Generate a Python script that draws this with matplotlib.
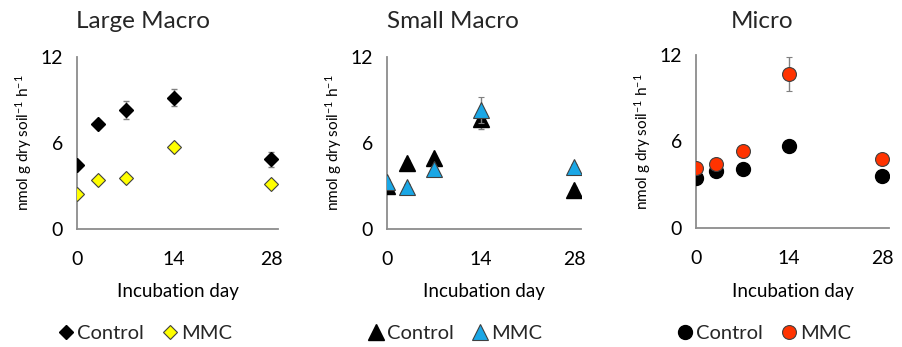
import matplotlib
matplotlib.use("Agg")
import matplotlib.pyplot as plt
from matplotlib.lines import Line2D

plt.rcParams.update({
    "font.family": ["Lato", "DejaVu Sans"],
    "font.size": 12,
    "text.color": "#262626",
    "mathtext.fontset": "custom",
    "mathtext.rm": "Lato",
})

days = [0, 3, 7, 14, 28]
xticks = [0, 14, 28]
yticks = [0, 6, 12]

titles = ["Large Macro", "Small Macro", "Micro"]

large_ctrl = [4.47, 7.33, 8.3, 9.16, 4.86]
large_ctrl_err = [0.2, 0.2, 0.6, 0.6, 0.5]
large_mmc = [2.42, 3.42, 3.54, 5.7, 3.16]
large_mmc_err = [0.15, 0.15, 0.15, 0.2, 0.15]

small_ctrl = [3.0, 4.6, 4.92, 7.7, 2.7]
small_ctrl_err = [0.2, 0.2, 0.2, 0.7, 0.2]
small_mmc = [3.3, 2.93, 4.22, 8.3, 4.33]
small_mmc_err = [0.2, 0.2, 0.2, 0.9, 0.2]

micro_ctrl = [3.47, 3.96, 4.12, 5.7, 3.61]
micro_ctrl_err = [0.15, 0.15, 0.15, 0.2, 0.15]
micro_mmc = [4.19, 4.47, 5.35, 10.67, 4.77]
micro_mmc_err = [0.2, 0.2, 0.2, 1.2, 0.2]

panels = [
    (large_ctrl, large_ctrl_err, large_mmc, large_mmc_err, "D", 7, "#FFFF00"),
    (small_ctrl, small_ctrl_err, small_mmc, small_mmc_err, "^", 11, "#1AA7E6"),
    (micro_ctrl, micro_ctrl_err, micro_mmc, micro_mmc_err, "o", 10, "#FF3300"),
]

W, H = 902, 347
fig = plt.figure(figsize=(W / 100, H / 100), dpi=100)

# axes boxes in pixels: left, right, top, bottom
boxes = [(77, 278, 57, 229), (387, 581, 57, 229), (696, 889, 55, 228)]
title_x = [143, 453, 762]

for i, (ctrl, ce, mmc, me, mk, ms, col) in enumerate(panels):
    l, r, t, b = boxes[i]
    ax = fig.add_axes([l / W, 1 - b / H, (r - l) / W, (b - t) / H])
    ax.errorbar(days, ctrl, yerr=ce, fmt=mk, ms=ms, mfc="black", mec="black",
                ecolor="#808080", elinewidth=1, capsize=2.5, zorder=3)
    ax.errorbar(days, mmc, yerr=me, fmt=mk, ms=ms, mfc=col, mec="#404040", mew=0.8,
                ecolor="#808080", elinewidth=1, capsize=2.5, zorder=4)
    ax.set_xlim(0, 29)
    ax.set_ylim(0, 12)
    ax.set_xticks(xticks)
    ax.set_yticks(yticks)
    for s in ["top", "right"]:
        ax.spines[s].set_visible(False)
    for s in ["left", "bottom"]:
        ax.spines[s].set_color("#8c8c8c")
        ax.spines[s].set_linewidth(1.3)
        ax.spines[s].set_zorder(1)
    ax.tick_params(length=0, labelsize=14)
    ax.tick_params(axis="x", pad=16)
    ax.tick_params(axis="y", pad=10)
    ax.set_xlabel("Incubation day", fontsize=13.5, labelpad=11)
    ax.set_ylabel(r"nmol g dry soil$\mathregular{^{-1}}$ h$\mathregular{^{-1}}$",
                  fontsize=11, labelpad=5)
    ax.patch.set_alpha(0)

    fig.text(title_x[i] / W, 1 - 22 / H, titles[i], ha="center", va="center", fontsize=17.5)

    handles = [
        Line2D([], [], ls="none", marker=mk, ms=ms, mfc="black", mec="black"),
        Line2D([], [], ls="none", marker=mk, ms=ms, mfc=col, mec="#404040", mew=0.8),
    ]
    fig.legend(handles, ["Control", "MMC"], loc="center", ncol=2, frameon=False,
               bbox_to_anchor=(title_x[i] / W + 0.002, 1 - 333 / H), fontsize=14.5,
               handletextpad=0.15, columnspacing=0.9, handlelength=0.8)

fig.savefig("out.png", dpi=100)
